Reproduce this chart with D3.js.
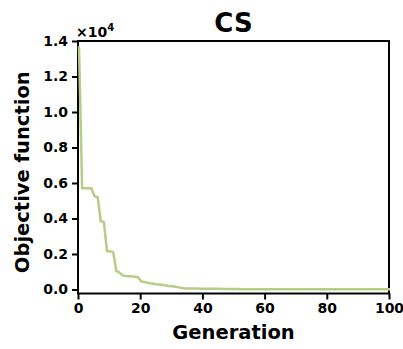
<!DOCTYPE html>
<html>
<head>
<meta charset="utf-8">
<script src="https://cdn.jsdelivr.net/npm/d3@7"></script>
<style>
  html, body { margin: 0; padding: 0; background: #fff; }
  svg { display: block; }
  text { font-family: "DejaVu Sans", sans-serif; font-weight: bold; fill: #000; }
</style>
</head>
<body>
<svg id="chart" width="403" height="349"></svg>
<script>
// Best objective value found at each generation (CS optimiser)
const generations = d3.range(0, 101);
const objective = [
  13700, 5700, 5700, 5700, 5700, 5250, 5200, 3850, 3800, 2150,
  2150, 2100, 1050, 950, 800, 760, 750, 740, 720, 690,
  450, 430, 380, 350, 330, 300, 280, 260, 230, 200,
  180, 150, 120, 80, 60, 55, 55, 52, 50, 48,
  46, 44, 42, 40, 38, 36, 34, 32, 30, 28,
  26, 24, 20, 12, 10, 10, 10, 10, 10, 10,
  10, 10, 10, 10, 10, 10, 10, 10, 10, 10,
  10, 10, 10, 10, 10, 10, 10, 10, 10, 10,
  10, 10, 10, 10, 10, 10, 10, 10, 10, 10,
  10, 10, 10, 10, 10, 10, 10, 10, 10, 10,
  10
];
const xTicks = [0, 20, 40, 60, 80, 100];
const yTicks = [0, 2000, 4000, 6000, 8000, 10000, 12000, 14000];
const yExponent = 4;

const svg = d3.select("#chart");
const plotLeft = 78, plotRight = 389, plotTop = 41, plotBottom = 293.5;

const x = d3.scaleLinear().domain([0, 100]).range([plotLeft, plotRight]);
const y = d3.scaleLinear().domain([-225, 14000]).range([plotBottom, plotTop]);

// frame
svg.append("rect")
  .attr("x", plotLeft).attr("y", plotTop)
  .attr("width", plotRight - plotLeft).attr("height", plotBottom - plotTop)
  .attr("fill", "none").attr("stroke", "#000").attr("stroke-width", 2);

// data line, drawn above the frame
const line = d3.line()
  .x((d, i) => x(generations[i]) + 1)
  .y(d => y(d));

svg.append("path")
  .datum(objective)
  .attr("d", line)
  .attr("fill", "none")
  .attr("stroke", "#b7cc86")
  .attr("stroke-width", 2.5)
  .attr("stroke-linejoin", "round");

// axes
const xAxis = d3.axisBottom(x).tickValues(xTicks).tickSize(6).tickPadding(4)
  .tickFormat(d3.format("d"));
const yAxis = d3.axisLeft(y).tickValues(yTicks).tickSize(6).tickPadding(4)
  .tickFormat(d => (d / Math.pow(10, yExponent)).toFixed(1));

const gx = svg.append("g").attr("transform", `translate(0,${plotBottom})`).call(xAxis);
const gy = svg.append("g").attr("transform", `translate(${plotLeft},0)`).call(yAxis);

[gx, gy].forEach(g => {
  g.select(".domain").remove();
  g.selectAll(".tick line").attr("stroke", "#000").attr("stroke-width", 2);
  g.selectAll(".tick text").style("font-size", "14px")
    .style("font-family", "'DejaVu Sans', sans-serif").style("font-weight", "bold");
});

// offset label for the y-axis
const off = svg.append("text").attr("x", plotLeft - 2).attr("y", plotTop - 4)
  .style("font-size", "14px");
off.append("tspan").text("\u00d710");
off.append("tspan").attr("dy", -6).style("font-size", "10px").text(yExponent);

// title
svg.append("text")
  .attr("x", (plotLeft + plotRight) / 2).attr("y", 32)
  .attr("text-anchor", "middle")
  .style("font-size", "26px")
  .text("CS");

// axis titles
svg.append("text")
  .attr("x", (plotLeft + plotRight) / 2).attr("y", 339)
  .attr("text-anchor", "middle")
  .style("font-size", "19.5px")
  .text("Generation");

svg.append("text")
  .attr("transform", `translate(29,${(plotTop + plotBottom) / 2 + 5}) rotate(-90)`)
  .attr("text-anchor", "middle")
  .style("font-size", "19.5px")
  .text("Objective function");
</script>
</body>
</html>
